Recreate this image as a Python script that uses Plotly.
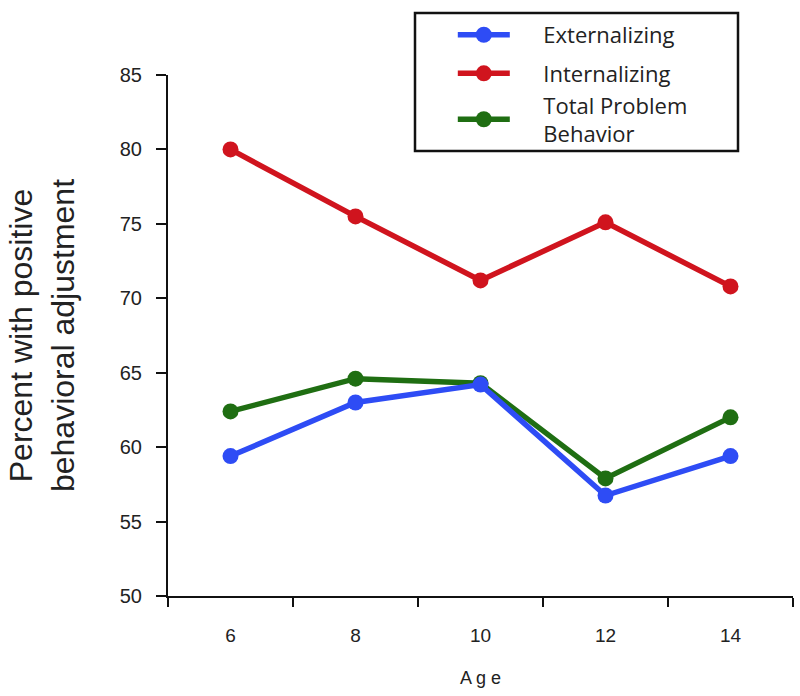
import plotly.graph_objects as go

ages = ["6", "8", "10", "12", "14"]
externalizing = [59.4, 63.0, 64.2, 56.75, 59.4]
internalizing = [80.0, 75.5, 71.2, 75.1, 70.8]
total_problem = [62.4, 64.6, 64.3, 57.9, 62.0]
y_ticks = [50, 55, 60, 65, 70, 75, 80, 85]

pad = "\u00a0" * 5

fig = go.Figure()
fig.add_trace(go.Scatter(x=ages, y=total_problem,
                         name=pad + "Total Problem<br>" + pad + "Behavior",
                         mode="lines+markers", legendrank=3, legendgroup="b",
                         line=dict(color="#1f6e12", width=5.5),
                         marker=dict(color="#1f6e12", size=16)))
fig.add_trace(go.Scatter(x=ages, y=internalizing, name=pad + "Internalizing",
                         mode="lines+markers", legendrank=2, legendgroup="b",
                         line=dict(color="#d0141e", width=5.5),
                         marker=dict(color="#d0141e", size=16)))
fig.add_trace(go.Scatter(x=ages, y=externalizing, name=pad + "Externalizing",
                         mode="lines+markers", legendrank=1, legendgroup="a",
                         line=dict(color="#2e4cf5", width=5.5),
                         marker=dict(color="#2e4cf5", size=16)))

# legend frame
fig.add_shape(type="rect", xref="paper", yref="paper",
              x0=0.3952, x1=0.912, y0=0.8541, y1=1.119,
              line=dict(color="#111", width=2.5), fillcolor="rgba(0,0,0,0)")

fig.update_layout(
    width=800, height=696,
    margin=dict(l=168, r=7, t=75, b=100, autoexpand=False),
    plot_bgcolor="white", paper_bgcolor="white",
    font=dict(family="Liberation Sans, Arial, sans-serif", color="#222"),
    legend=dict(xref="container", yref="container", x=0.566, y=0.980,
                xanchor="left", yanchor="top",
                borderwidth=0, bgcolor="rgba(0,0,0,0)",
                font=dict(family="Open Sans, sans-serif", size=22, color="#222"),
                itemwidth=52, tracegroupgap=7, traceorder="grouped"),
    xaxis=dict(type="category", range=[-0.5, 4.5], showline=True, linecolor="#111",
               linewidth=2, ticks="outside", ticklen=9, tickwidth=2, tickcolor="#111",
               tickson="boundaries", showgrid=False, zeroline=False, automargin=False,
               tickfont=dict(size=19), ticklabelstandoff=21,
               title=dict(text="A g e", font=dict(size=18), standoff=27)),
    yaxis=dict(range=[50, 85], tickvals=y_ticks, showline=True, linecolor="#111",
               linewidth=2, ticks="outside", ticklen=10, tickwidth=2, tickcolor="#111",
               showgrid=False, zeroline=False, automargin=False, tickfont=dict(size=20),
               ticklabelstandoff=10,
               title=dict(text="Percent with positive<br>behavioral adjustment",
                          font=dict(size=32), standoff=36)),
)

fig.write_html("out.html", config={"displayModeBar": False},
               post_script="document.body.style.margin='0';")
